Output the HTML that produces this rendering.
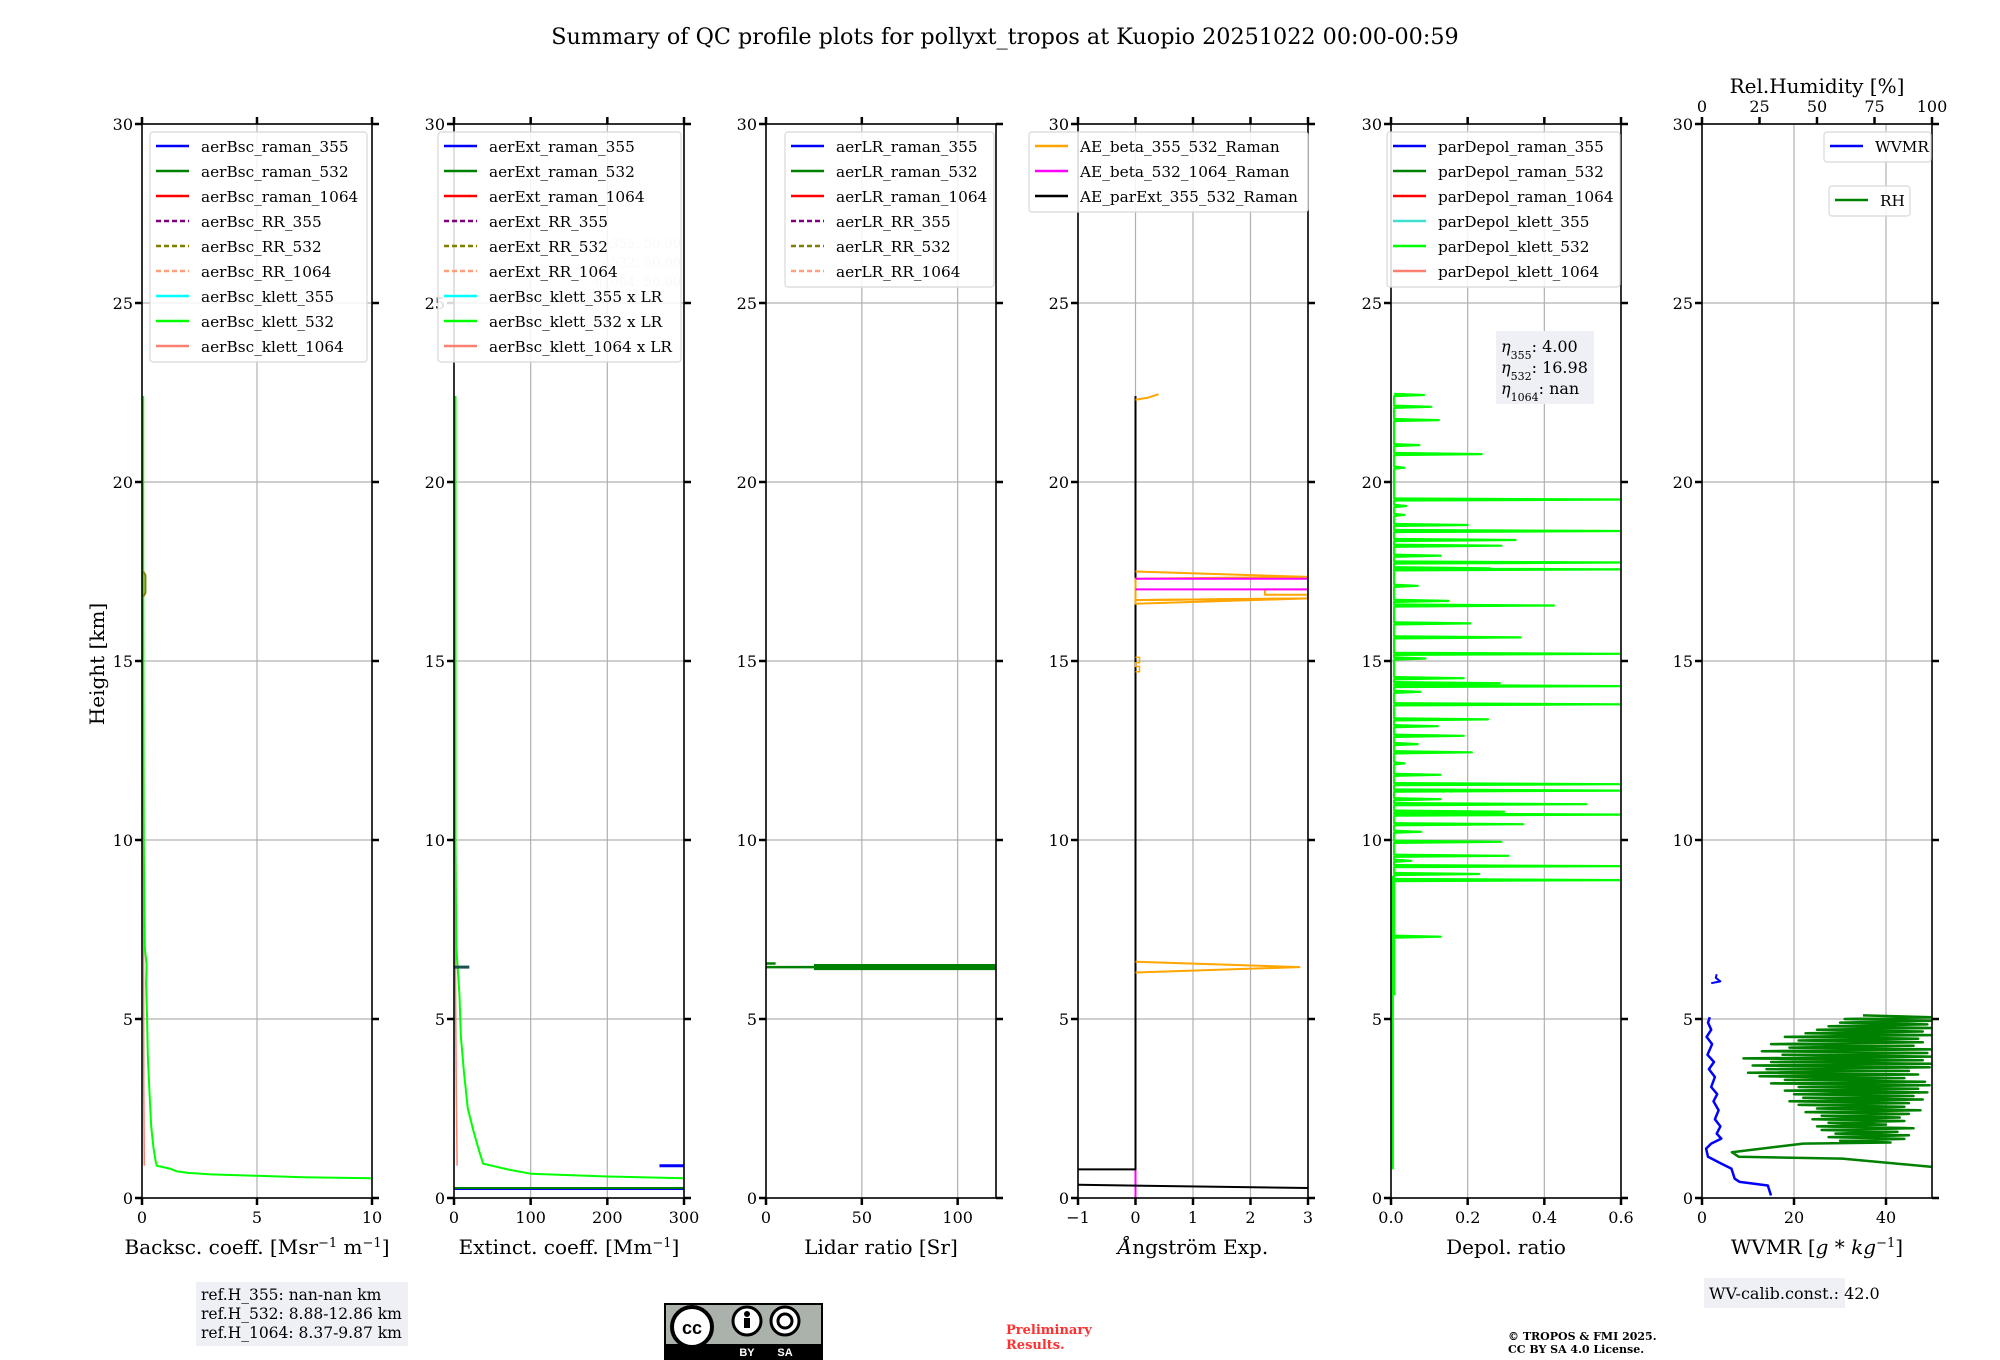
<!DOCTYPE html>
<html><head><meta charset="utf-8">
<style>
html,body{margin:0;padding:0;background:#fff;}
svg{display:block;font-family:"DejaVu Serif","Liberation Serif",serif;}
</style></head>
<body>
<svg id="fig" width="2000" height="1360" viewBox="0 0 2000 1360" xmlns="http://www.w3.org/2000/svg">
<rect width="2000" height="1360" fill="#fff"/>
<text x="1005" y="44" font-size="22.3" text-anchor="middle">Summary of QC profile plots for pollyxt_tropos at Kuopio 20251022 00:00-00:59</text>
<text transform="translate(104,664) rotate(-90)" font-size="20" text-anchor="middle">Height [km]</text>
<g id="plots"></g>
<g>
<rect x="196" y="1282" width="212" height="64" fill="#eef0f5"/>
<text x="201" y="1300" font-size="15.5">ref.H_355: nan-nan km</text>
<text x="201" y="1319" font-size="15.5">ref.H_532: 8.88-12.86 km</text>
<text x="201" y="1338" font-size="15.5">ref.H_1064: 8.37-9.87 km</text>
</g>
<g>
<rect x="665" y="1304" width="157" height="55" fill="#aab2ab" stroke="#000" stroke-width="2"/>
<rect x="666" y="1344" width="155" height="15" fill="#000"/>
<circle cx="692" cy="1327" r="20" fill="#fff" stroke="#000" stroke-width="4"/>
<text x="692" y="1334" font-size="18" font-weight="bold" text-anchor="middle" font-family="Liberation Sans,sans-serif">cc</text>
<circle cx="747" cy="1321" r="14" fill="#fff" stroke="#000" stroke-width="3"/>
<circle cx="747" cy="1314" r="3" fill="#000"/><rect x="744" y="1318" width="6" height="10" fill="#000"/>
<circle cx="785" cy="1321" r="14" fill="#fff" stroke="#000" stroke-width="3"/>
<circle cx="785" cy="1321" r="7" fill="none" stroke="#000" stroke-width="3"/>
<text x="747" y="1356" font-size="11" fill="#fff" text-anchor="middle" font-family="Liberation Sans,sans-serif" font-weight="bold">BY</text>
<text x="785" y="1356" font-size="11" fill="#fff" text-anchor="middle" font-family="Liberation Sans,sans-serif" font-weight="bold">SA</text>
</g>
<g fill="#ff3030" font-size="13" font-weight="bold">
<text x="1006" y="1334">Preliminary</text><text x="1006" y="1349">Results.</text>
</g>
<g font-size="11" font-weight="bold">
<text x="1508" y="1340">© TROPOS &amp; FMI 2025.</text><text x="1508" y="1353">CC BY SA 4.0 License.</text>
</g>
<g>
<rect x="1704" y="1278" width="141" height="30" fill="#eef0f5"/>
<text x="1709" y="1299" font-size="16">WV-calib.const.: 42.0</text>
</g>
</svg>
<script>
// ---------- data ----------
const yTicks=[0,5,10,15,20,25,30];
const bscH=[0.55,0.58,0.62,0.66,0.7,0.75,0.82,0.88,0.9,1.0,1.4,2,3,4,5,6,6.5,7,8,10,12,15,18,20,22.4];
const bscV=[10,7,5,3,2,1.5,1.2,0.8,0.65,0.6,0.5,0.4,0.32,0.25,0.22,0.18,0.2,0.12,0.1,0.08,0.07,0.06,0.05,0.05,0.05];
const bsc1064H=[0.9,3,6,10,15,20,22.4];
const bsc1064V=[0.1,0.08,0.07,0.06,0.05,0.05,0.05];
const extH=[0.55,0.6,0.68,0.8,0.9,0.96,1.3,1.9,2.5,3.5,4.5,5.7,6.4,7,10,15,20,22.4];
const extV=[300,200,100,70,50,38,33,25,18,13,9,7,5,3,2,2,2,2];
const ext1064H=[0.9,3,6,10,15,20,22.4];
const ext1064V=[4,3,2,2,1,1,1];
const lrH=[6.55,6.5,6.45,6.4];
const lrStart=[0,25,0,25];
const lrEnd=[5,120,120,120];
const aeTopH=[22.3,22.35,22.45];
const aeTopV=[0,0.2,0.4];
const aeOrH=[17.5,17.35,17.3,16.6,16.75,16.7];
const aeOrV=[0,3,0,0,3,0];
const aeOr2H=[6.6,6.45,6.3];
const aeOr2V=[0,2.85,0];
const aeMagH=[17.3,17.0];
const blackLineX=[-1,3];
const blackLineH=[0.37,0.28];
const depH=[22.43,22.1,21.73,21.03,20.78,20.4,19.51,19.33,19.08,18.8,18.63,18.38,18.22,17.94,17.75,17.59,17.56,17.1,16.68,16.55,16.05,15.66,15.2,15.07,14.52,14.38,14.3,14.14,13.79,13.37,13.18,12.91,12.68,12.45,12.14,11.82,11.56,11.38,11.14,11.0,10.79,10.71,10.44,10.23,9.95,9.56,9.42,9.27,9.05,8.88,7.3,5.7];
const depV=[0.086,0.105,0.125,0.074,0.237,0.035,0.6,0.04,0.035,0.2,0.6,0.325,0.288,0.13,0.6,0.258,0.6,0.07,0.15,0.425,0.207,0.338,0.6,0.09,0.19,0.284,0.6,0.077,0.6,0.253,0.122,0.19,0.07,0.211,0.035,0.129,0.6,0.6,0.13,0.51,0.295,0.6,0.345,0.079,0.288,0.307,0.053,0.6,0.23,0.6,0.13,0.01];
const wvH=[0.07,0.35,0.45,0.54,0.82,0.96,1.15,1.38,1.52,1.66,1.8,2.0,2.2,2.45,2.7,2.9,3.1,3.38,3.6,3.8,4.0,4.3,4.5,4.7,4.9,5.05];
const wvV=[15,14.3,8.2,7.1,6.4,4.2,1.3,0.9,2,4.2,3.2,4.0,2.8,3.6,2.5,3.3,2.0,2.8,1.5,2.6,1.2,2.2,1.0,2.0,1.3,1.7];
const rhH=[0.87,1.1,1.15,1.28,1.52,1.55,1.6,1.65,1.7,1.75,1.8,1.85,1.9,1.95,2.0,2.05,2.1,2.15,2.2,2.25,2.3,2.35,2.4,2.45,2.5,2.55,2.6,2.65,2.7,2.75,2.8,2.85,2.9,2.95,3.0,3.05,3.1,3.15,3.2,3.25,3.3,3.35,3.4,3.45,3.5,3.55,3.6,3.65,3.7,3.75,3.8,3.85,3.9,3.95,4.0,4.05,4.1,4.15,4.2,4.25,4.3,4.35,4.4,4.45,4.5,4.55,4.6,4.65,4.7,4.75,4.8,4.85,4.9,4.95,5.0,5.05,5.1];
const rhV=[100,61,16,13,44,82,60,88,55,90,58,85,52,92,50,80,55,88,48,86,52,90,45,95,50,88,42,90,38,96,44,92,40,98,36,94,42,99,30,97,36,88,25,94,20,90,28,99,22,100,30,96,18,100,35,98,26,100,38,92,30,96,42,94,36,100,45,96,50,100,55,98,60,100,62,100,70];

// ---------- layout ----------
const TOP=124,BOT=1198,W=230;
const LEFTS=[142,454,766,1078,1391,1702];
const NS="http://www.w3.org/2000/svg";
const root=document.getElementById('plots');
function el(tag,attrs,parent){const e=document.createElementNS(NS,tag);for(const k in attrs)e.setAttribute(k,attrs[k]);(parent||root).appendChild(e);return e;}
function sy(h){return BOT-(h/30)*(BOT-TOP);}
function mkX(i,min,max){return v=>LEFTS[i]+(v-min)/(max-min)*W;}
const panels=[
 {min:0,max:10,ticks:[0,5,10],lab:['0','5','10'],title:'Backsc. coeff. [Msr<tspan baseline-shift="super" font-size="13">−1</tspan> m<tspan baseline-shift="super" font-size="13">−1</tspan>]'},
 {min:0,max:300,ticks:[0,100,200,300],lab:['0','100','200','300'],title:'Extinct. coeff. [Mm<tspan baseline-shift="super" font-size="13">−1</tspan>]'},
 {min:0,max:120,ticks:[0,50,100],lab:['0','50','100'],title:'Lidar ratio [Sr]'},
 {min:-1,max:3,ticks:[-1,0,1,2,3],lab:['−1','0','1','2','3'],title:'<tspan font-style="italic">Å</tspan>ngström Exp.'},
 {min:0,max:0.6,ticks:[0,0.2,0.4,0.6],lab:['0.0','0.2','0.4','0.6'],title:'Depol. ratio'},
 {min:0,max:50,ticks:[0,20,40],lab:['0','20','40'],title:'WVMR [<tspan font-style="italic">g</tspan> * <tspan font-style="italic">kg</tspan><tspan baseline-shift="super" font-size="13">−1</tspan>]'}
];
const X=panels.map((p,i)=>mkX(i,p.min,p.max));

panels.forEach((p,i)=>{
 const g=el('g',{});
 
 
 const L=LEFTS[i];
 p.ticks.forEach(t=>{const x=X[i](t);const gl=el('line',{x1:x,x2:x,y1:TOP,y2:BOT,stroke:'#b0b0b0','stroke-width':1.2},g);});
 yTicks.forEach(t=>{const y=sy(t);const gl=el('line',{x1:L,x2:L+W,y1:y,y2:y,stroke:'#b0b0b0','stroke-width':1.2},g);});
 p.g=g;
});

function line(i,xs,hs,color,w,dash,name){
 const pts=xs.map((v,k)=>X[i](v).toFixed(1)+','+sy(hs[k]).toFixed(1)).join(' ');
 const e=el('polyline',{points:pts,fill:'none',stroke:color,'stroke-width':w||2,'stroke-linejoin':'round'},panels[i].g);
 if(dash)e.setAttribute('stroke-dasharray',dash);
 
 
 return e;
}
function clip(i){const id='clip'+i;const c=el('clipPath',{id:id});el('rect',{x:LEFTS[i],y:TOP,width:W,height:BOT-TOP},c);return 'url(#'+id+')';}
panels.forEach((p,i)=>{p.g.setAttribute('clip-path',clip(i));});

// panel 1
line(0,bsc1064V,bsc1064H,'#fa8072',1.5,null,'aerBsc-klett-1064-line');
line(0,bscV,bscH,'#00ff00',2,null,'aerBsc-klett-532-line');
line(0,[0.05,0.15,0.15,0.05],[16.8,16.9,17.4,17.5],'#808000',2,null,'aerBsc-RR-532-line');
// panel 2
line(1,ext1064V,ext1064H,'#fa8072',1.5,null,'aerBsc-klett-1064xLR-line');
line(1,extV,extH,'#00ff00',2,null,'aerBsc-klett-532xLR-line');
line(1,[0,300],[0.25,0.25],'#0000ff',2,null,'aerExt-raman-355-line');
line(1,[0,300],[0.28,0.28],'#008000',2,null,'aerExt-raman-532-line');
line(1,[268,300],[0.9,0.9],'#0000ff',3,null,'aerExt-raman-355-low-line');
line(1,[0,20],[6.45,6.45],'#1a5050',3,null,'aerExt-raman-532-6km-line');
// panel 3
lrH.forEach((h,k)=>line(2,[lrStart[k],lrEnd[k]],[h,h],'#008000',2.5,null,'aerLR-raman-532-line'));
// panel 4
line(3,[0,0],[0,0.8],'#ff00ff',2,null,'AE-beta-532-1064-low');
line(3,[-1,0,0],[0.8,0.8,22.4],'#000000',2,null,'AE-parExt-355-532-line');
line(3,blackLineX,blackLineH,'#000000',2,null,'AE-parExt-355-532-bottom-line');
line(3,aeTopV,aeTopH,'#ffa500',2,null,'AE-beta-355-532-top');
line(3,aeOrV,aeOrH,'#ffa500',2,null,'AE-beta-355-532-upper');
line(3,[0,3,3,2.25,2.25,3],[16.7,16.75,16.85,16.85,17.0,17.0],'#ffa500',2,null,'AE-beta-355-532-box');
line(3,[0,0.07,0.07,0,0,0.07,0.07,0],[14.7,14.7,14.85,14.85,14.95,14.95,15.1,15.1],'#ffa500',1.5,null,'AE-beta-355-532-15km');
line(3,aeOr2V,aeOr2H,'#ffa500',2,null,'AE-beta-355-532-6km');
aeMagH.forEach(h=>line(3,[0,3],[h,h],'#ff00ff',2,null,'AE-beta-532-1064-line'));
// panel 5
(function(){const xs=[],hs=[];for(let k=depH.length-1;k>=0;k--){xs.push(0.008,depV[k],0.008);hs.push(depH[k]-0.03,depH[k],depH[k]+0.03);}
line(4,[0.005,0.005],[0.8,9],'#00ff00',2,null,'parDepol-klett-532-base');
line(4,xs,hs,'#00ff00',2.2,null,'parDepol-klett-532-line');})();
// panel 6
const rhX=v=>v/100*50;
line(5,rhV.map(rhX),rhH,'#008000',2.5,null,'RH-line');
line(5,wvV,wvH,'#0000ff',2.5,null,'WVMR-line');
line(5,[2,4,3,3.2],[6.0,6.05,6.15,6.25],'#0000ff',2,null,'WVMR-upper-line');

// axes, ticks, labels
panels.forEach((p,i)=>{
 const L=LEFTS[i];
 const ax=el('g',{});
 
 
 el('rect',{x:L,y:TOP,width:W,height:BOT-TOP,fill:'none',stroke:'#000','stroke-width':1.6},ax);
 yTicks.forEach(t=>{const y=sy(t);
  el('line',{x1:L-7,x2:L,y1:y,y2:y,stroke:'#000','stroke-width':2.5},ax);
  el('line',{x1:L+W,x2:L+W+7,y1:y,y2:y,stroke:'#000','stroke-width':2.5},ax);
  const tl=el('text',{x:L-9,y:y+6,'font-size':16,'text-anchor':'end'},ax);tl.textContent=t;
  });
 p.ticks.forEach((t,k)=>{const x=X[i](t);
  el('line',{x1:x,x2:x,y1:BOT,y2:BOT+7,stroke:'#000','stroke-width':2.5},ax);
  if(i<5) el('line',{x1:x,x2:x,y1:TOP-7,y2:TOP,stroke:'#000','stroke-width':2.5},ax);
  const tl=el('text',{x:x,y:BOT+25,'font-size':16,'text-anchor':'middle'},ax);tl.textContent=p.lab[k];
  });
 const tt=el('text',{x:L+W/2,y:1254,'font-size':20,'text-anchor':'middle'},ax);tt.innerHTML=p.title;
 
});
// RH top axis
(function(){const ticks=[0,25,50,75,100];const ax=el('g',{});
 
 ticks.forEach(t=>{const x=LEFTS[5]+t/100*W;el('line',{x1:x,x2:x,y1:TOP-7,y2:TOP,stroke:'#000','stroke-width':2.5},ax);
 const tl=el('text',{x:x,y:TOP-12,'font-size':16,'text-anchor':'middle'},ax);tl.textContent=t;
 });
 const t=el('text',{x:LEFTS[5]+115,y:93,'font-size':20,'text-anchor':'middle'},ax);t.textContent='Rel.Humidity [%]';
 })();

// faint LR text in panel 2
['η355: 50.00','η532: 50.00','η1064: 50.00'].forEach((s,k)=>{const t=el('text',{x:681,y:248+k*19,'font-size':13,'text-anchor':'end',fill:'#cfcfcf'});t.textContent=s;
 });

// legends
function legend(x,y,w,entries,name){
 const g=el('g',{});
 const h=entries.length*25+5;
 el('rect',{x:x,y:y,width:w,height:h,rx:3,fill:'#fff','fill-opacity':0.85,stroke:'#d8d8d8','stroke-width':1.2},g);
 entries.forEach((e,k)=>{const cy=y+14+k*25;
  const ln=el('line',{x1:x+6,x2:x+39,y1:cy,y2:cy,stroke:e[1],'stroke-width':2.5},g);
  if(e[2])ln.setAttribute('stroke-dasharray','5,3');
  const t=el('text',{x:x+51,y:cy+6,'font-size':15.3},g);t.textContent=e[0];
  });
}
const C9=[['#0000ff'],['#008000'],['#ff0000'],['#800080',1],['#808000',1],['#ffa07a',1],['#00ffff'],['#00ff00'],['#fa8072']];
const mk=(names,cols)=>names.map((n,k)=>[n,cols[k][0],cols[k][1]]);
legend(150,132,217,mk(['aerBsc_raman_355','aerBsc_raman_532','aerBsc_raman_1064','aerBsc_RR_355','aerBsc_RR_532','aerBsc_RR_1064','aerBsc_klett_355','aerBsc_klett_532','aerBsc_klett_1064'],C9),'legend-backscatter');
legend(438,132,243,mk(['aerExt_raman_355','aerExt_raman_532','aerExt_raman_1064','aerExt_RR_355','aerExt_RR_532','aerExt_RR_1064','aerBsc_klett_355 x LR','aerBsc_klett_532 x LR','aerBsc_klett_1064 x LR'],C9),'legend-extinction');
legend(785,132,209,mk(['aerLR_raman_355','aerLR_raman_532','aerLR_raman_1064','aerLR_RR_355','aerLR_RR_532','aerLR_RR_1064'],C9),'legend-lidar-ratio');
legend(1029,132,279,[['AE_beta_355_532_Raman','#ffa500'],['AE_beta_532_1064_Raman','#ff00ff'],['AE_parExt_355_532_Raman','#000000']],'legend-angstrom');
legend(1387,132,233,mk(['parDepol_raman_355','parDepol_raman_532','parDepol_raman_1064','parDepol_klett_355','parDepol_klett_532','parDepol_klett_1064'],[['#0000ff'],['#008000'],['#ff0000'],['#40e0d0'],['#00ff00'],['#fa8072']]),'legend-depol');
legend(1824,132,107,[['WVMR','#0000ff']],'legend-wvmr');
legend(1829,186,81,[['RH','#008000']],'legend-rh');

// eta box
(function(){const g=el('g',{});
 el('rect',{x:1496,y:331,width:98,height:73,fill:'#eef0f5'},g);
 [['355','4.00'],['532','16.98'],['1064','nan']].forEach((e,k)=>{const t=el('text',{x:1501,y:352+k*21,'font-size':16},g);
 t.innerHTML='<tspan font-style="italic">η</tspan><tspan font-size="11" baseline-shift="sub">'+e[0]+'</tspan>: '+e[1];});})();
</script>
</body></html>
